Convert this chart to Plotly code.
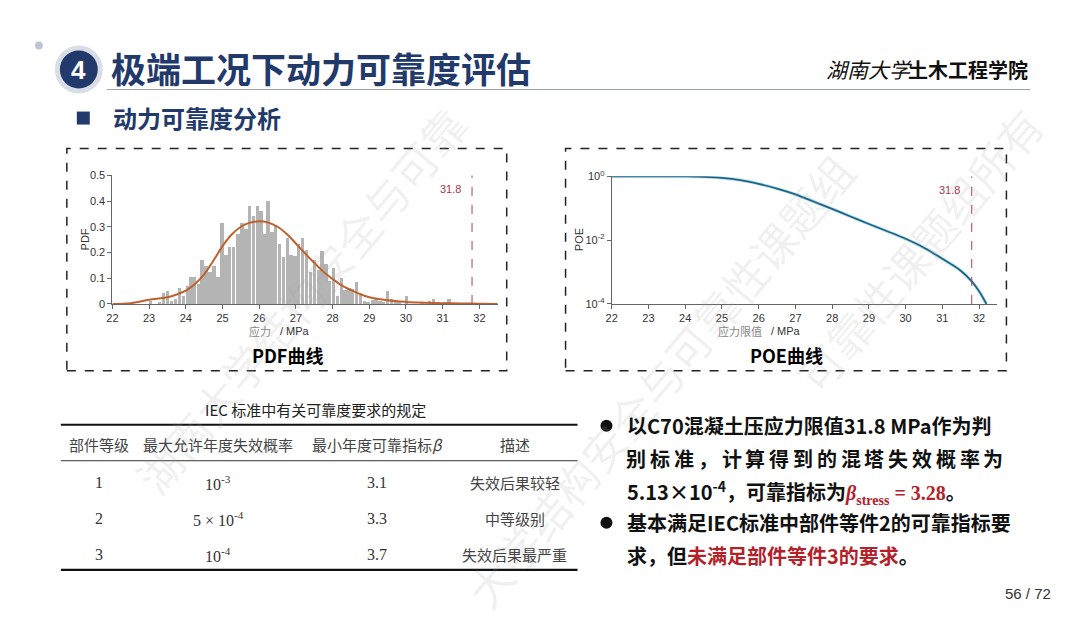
import plotly.graph_objects as go

W, H = 1080, 623

# ---- data ----
hist_x = [23.05, 23.30, 23.41, 23.52, 23.62, 23.73, 23.84, 23.94, 24.05, 24.15,
          24.25, 24.35, 24.45, 24.56, 24.67, 24.78, 24.89, 25.00, 25.11, 25.21,
          25.32, 25.43, 25.54, 25.65, 25.75, 25.85, 25.96, 26.06, 26.15, 26.25,
          26.36, 26.46, 26.57, 26.67, 26.78, 26.88, 26.99, 27.09, 27.20, 27.30,
          27.41, 27.51, 27.62, 27.72, 27.83, 27.93, 28.04, 28.14, 28.25, 28.35,
          28.46, 28.56, 28.67, 28.77, 28.88, 28.98, 29.09, 29.19, 29.30, 29.40,
          29.51, 29.61, 29.72, 29.82, 30.03, 30.45, 30.66, 30.76, 31.08, 31.18]
hist_y = [0.010, 0.008, 0.040, 0.050, 0.010, 0.020, 0.060, 0.030, 0.070, 0.105,
          0.105, 0.075, 0.170, 0.145, 0.125, 0.145, 0.105, 0.315, 0.190, 0.220,
          0.220, 0.270, 0.315, 0.290, 0.380, 0.340, 0.380, 0.360, 0.270, 0.400,
          0.280, 0.305, 0.230, 0.180, 0.255, 0.190, 0.185, 0.230, 0.255, 0.210,
          0.125, 0.170, 0.130, 0.205, 0.155, 0.090, 0.140, 0.030, 0.100, 0.055,
          0.060, 0.058, 0.085, 0.043, 0.010, 0.008, 0.013, 0.020, 0.010, 0.005,
          0.050, 0.020, 0.010, 0.005, 0.030, 0.005, 0.010, 0.020, 0.005, 0.020]

pdf_x = [22.0, 22.5, 23.0, 23.5, 23.75, 24.0, 24.25, 24.5, 24.75, 25.0, 25.25,
         25.5, 25.75, 26.0, 26.25, 26.5, 26.75, 27.0, 27.25, 27.5, 27.75, 28.0,
         28.25, 28.5, 28.75, 29.0, 29.5, 30.0, 30.5, 31.0, 31.5, 32.0, 32.5]
pdf_y = [0.0, 0.003, 0.016, 0.026, 0.037, 0.052, 0.078, 0.115, 0.168, 0.225, 0.270,
         0.300, 0.316, 0.321, 0.316, 0.300, 0.272, 0.235, 0.196, 0.160, 0.125, 0.097,
         0.072, 0.054, 0.038, 0.026, 0.014, 0.008, 0.005, 0.003, 0.002, 0.001, 0.0]

poe_x = [22.0, 23.0, 24.0, 24.5, 25.0, 25.5, 26.0, 26.5, 27.0, 27.5, 28.0, 28.5,
         29.0, 29.5, 30.0, 30.5, 31.0, 31.5, 31.8, 32.0, 32.2]
poe_y = [1.0, 1.0, 0.99, 0.96, 0.89, 0.76, 0.58, 0.41, 0.27, 0.16, 0.095, 0.055,
         0.032, 0.019, 0.011, 0.0058, 0.0026, 0.0011, 0.00051, 0.00025, 0.0001]

stress_limit = 31.8
x_ticks = list(range(22, 33))

table_title = "IEC 标准中有关可靠度要求的规定"
table_head = ["部件等级", "最大允许年度失效概率", "最小年度可靠指标<i>β</i>", "描述"]
table_grade = ["1", "2", "3"]
table_prob = ["10<sup>-3</sup>", "5 × 10<sup>-4</sup>", "10<sup>-4</sup>"]
table_beta = ["3.1", "3.3", "3.7"]
table_desc = ["失效后果较轻", "中等级别", "失效后果最严重"]

NAVY = "#22396b"
RED = "#b3222a"


# slide pixel -> paper fraction (small correction for how the page gets photographed)
def px(x):
    return ((x - 5) / 0.997) / W


def py(y):
    return 1 - ((y - 8.5) / 0.977) / H


fig = go.Figure()

# PDF panel
fig.add_trace(go.Bar(x=hist_x, y=hist_y, width=0.09, marker=dict(color="#b4b4b4", line_width=0),
                     xaxis="x", yaxis="y", showlegend=False))
fig.add_trace(go.Scatter(x=pdf_x, y=pdf_y, mode="lines", line=dict(color="#c0602c", width=2, shape="spline"),
                         xaxis="x", yaxis="y", showlegend=False))
fig.add_trace(go.Scatter(x=[stress_limit, stress_limit], y=[0, 0.5], mode="lines",
                         line=dict(color="#b04050", width=1, dash="dash"), xaxis="x", yaxis="y", showlegend=False))

# POE panel
fig.add_trace(go.Scatter(x=poe_x, y=poe_y, mode="lines", line=dict(color="#c4e6f2", width=3.5, shape="spline"),
                         xaxis="x2", yaxis="y2", showlegend=False))
fig.add_trace(go.Scatter(x=poe_x, y=poe_y, mode="lines", line=dict(color="#1d6384", width=1.8, shape="spline"),
                         xaxis="x2", yaxis="y2", showlegend=False))
fig.add_trace(go.Scatter(x=[stress_limit, stress_limit], y=[1e-4, 1], mode="lines",
                         line=dict(color="#b04050", width=1, dash="dash"), xaxis="x2", yaxis="y2", showlegend=False))

axis_common = dict(showgrid=False, zeroline=False, showline=True, linecolor="#666", linewidth=1,
                   ticks="outside", ticklen=4, tickcolor="#666",
                   tickfont=dict(family="Arial, Liberation Sans", size=11, color="#333"))

fig.update_layout(
    width=W, height=H, margin=dict(l=0, r=0, t=0, b=0),
    paper_bgcolor="white", plot_bgcolor="rgba(0,0,0,0)", bargap=0,
    xaxis=dict(domain=[px(111.7), px(498)], range=[22, 32.5], tickvals=x_ticks, anchor="y", **axis_common),
    yaxis=dict(domain=[py(304.3), py(175.7)], range=[0, 0.5], dtick=0.1, anchor="x", **axis_common),
    xaxis2=dict(domain=[px(612.3), px(999)], range=[22, 32.5], tickvals=x_ticks, anchor="y2", **axis_common),
    yaxis2=dict(domain=[py(304.3), py(176.7)], type="log", range=[-4, 0], anchor="x2",
                tickvals=[1e-4, 1e-2, 1], ticktext=["10<sup>-4</sup>", "10<sup>-2</sup>", "10<sup>0</sup>"],
                **axis_common),
)

shapes = []
annos = []


def text(x, y, s, size, color="#000", family="Noto Sans CJK SC", bold=False, xanchor="center", angle=0):
    if bold:
        s = "<b>" + s + "</b>"
    annos.append(dict(x=px(x), y=py(y), xref="paper", yref="paper", text=s, showarrow=False,
                      xanchor=xanchor, yanchor="middle", textangle=angle,
                      font=dict(size=size, color=color, family=family)))


def box(x0, y0, x1, y1, **kw):
    shapes.append(dict(type=kw.pop("kind", "rect"), xref="paper", yref="paper",
                       x0=px(x0), x1=px(x1), y0=py(y1), y1=py(y0), **kw))


# watermarks (faint, diagonal)
for cx, cy, s in [(300, 300, "湖南大学结构安全与可靠"), (660, 380, "大学结构安全与可靠性课题组"),
                  (920, 250, "可靠性课题组所有")]:
    text(cx, cy, s, 44, color="rgba(160,160,160,0.16)", angle=-50)

# header
box(34, 42, 42, 50, kind="circle", fillcolor="#bcc6d6", line_width=0)
box(54, 46, 102, 94, kind="circle", fillcolor="#d9dde5", line_width=0)
box(59, 51, 97, 89, kind="circle", fillcolor=NAVY, line_width=0)
text(78, 70, "4", 26, color="white", family="Arial, Liberation Sans", bold=True)
text(108, 68, "极端工况下动力可靠度评估", 35, color=NAVY, bold=True, xanchor="left")
shapes.append(dict(type="line", xref="paper", yref="paper", x0=px(106), x1=px(1032), y0=py(90), y1=py(90),
                   line=dict(color="#9aa0aa", width=1)))
text(825, 69, "<i>湖南大学</i>", 21, color="#111", xanchor="left")
text(907, 70, "土木工程学院", 20, color="#111", bold=True, xanchor="left")

box(76, 112, 89, 125, fillcolor=NAVY, line_width=0)
text(110, 118, "动力可靠度分析", 24, color=NAVY, bold=True, xanchor="left")

# dashed frames
for x0, x1 in [(66, 507), (566, 1008)]:
    box(x0, 149, x1, 371, line=dict(color="#222", width=1.5, dash="dash"), fillcolor="rgba(0,0,0,0)")

# panel texts
text(273, 331, "应力", 11, color="#888", xanchor="right")
text(278, 331, "/ MPa", 11, color="#333", family="Arial, Liberation Sans", xanchor="left")
text(765, 331, "应力限值", 11, color="#888", xanchor="right")
text(770, 331, "/ MPa", 11, color="#333", family="Arial, Liberation Sans", xanchor="left")
text(84, 240, "PDF", 11, color="#333", family="Arial, Liberation Sans", angle=-90)
text(579, 240, "POE", 11, color="#333", family="Arial, Liberation Sans", angle=-90)
text(463, 189, "31.8", 11, color="#a83848", family="Arial, Liberation Sans", xanchor="right")
text(963, 190, "31.8", 11, color="#a83848", family="Arial, Liberation Sans", xanchor="right")
text(287, 355, "PDF曲线", 18, color="#000", bold=True)
text(788, 355, "POE曲线", 18, color="#000", bold=True)

# table
text(315, 410, table_title, 15, color="#222")
for ly, lw, lc in [(425, 2.2, "#111"), (461, 1, "#333"), (570, 2.2, "#111")]:
    shapes.append(dict(type="line", xref="paper", yref="paper", x0=px(60), x1=px(578), y0=py(ly), y1=py(ly),
                       line=dict(color=lc, width=lw)))
col_x = [98, 218, 377, 515]
for cx, h in zip(col_x, table_head):
    text(cx, 445, h, 15, color="#444")
row_y = [483, 519, 555]
serif = "Liberation Serif, Times New Roman"
for i, ry in enumerate(row_y):
    text(col_x[0], ry, table_grade[i], 16, color="#333", family=serif)
    text(col_x[1], ry, table_prob[i], 16, color="#333", family=serif)
    text(col_x[2], ry, table_beta[i], 16, color="#333", family=serif)
    text(col_x[3], ry, table_desc[i], 15, color="#444")

# bullet text
for by in [426, 523]:
    box(601, by - 6, 613, by + 6, kind="circle", fillcolor="#111", line_width=0)
lines = [
    (426, "以C70混凝土压应力限值31.8 MPa作为判"),
    (492, "5.13×10<sup>-4</sup>，可靠指标为<span style='color:%s;font-family:Liberation Serif'><i>β</i>"
          "<sub>stress</sub> = 3.28</span>。" % RED),
    (523, "基本满足IEC标准中部件等件2的可靠指标要"),
    (556, "求，但<span style='color:%s'>未满足部件等件3的要求</span>。" % RED),
]
for ly, s in lines:
    text(626, ly, s, 20, color="#111", bold=True, xanchor="left")
# justified second line: characters spread evenly between 627 and 1005
line2 = "别标准，计算得到的混塔失效概率为"
step = (1005 - 627 - 20) / (len(line2) - 1)
for i, ch in enumerate(line2):
    text(637 + i * step, 459, ch, 20, color="#111", bold=True)

text(1055, 594, "56 / 72", 15, color="#333", family="Arial, Liberation Sans", xanchor="right")

fig.update_layout(shapes=shapes, annotations=annos)
fig.write_html(
    "out.html",
    config={"displayModeBar": False},
    post_script=("document.documentElement.style.margin='0';document.body.style.margin='0';"
                 "document.body.style.overflow='hidden';var g=document.getElementById('{plot_id}');"
                 "g.style.position='fixed';g.style.left='0px';g.style.top='0px';"),
)
